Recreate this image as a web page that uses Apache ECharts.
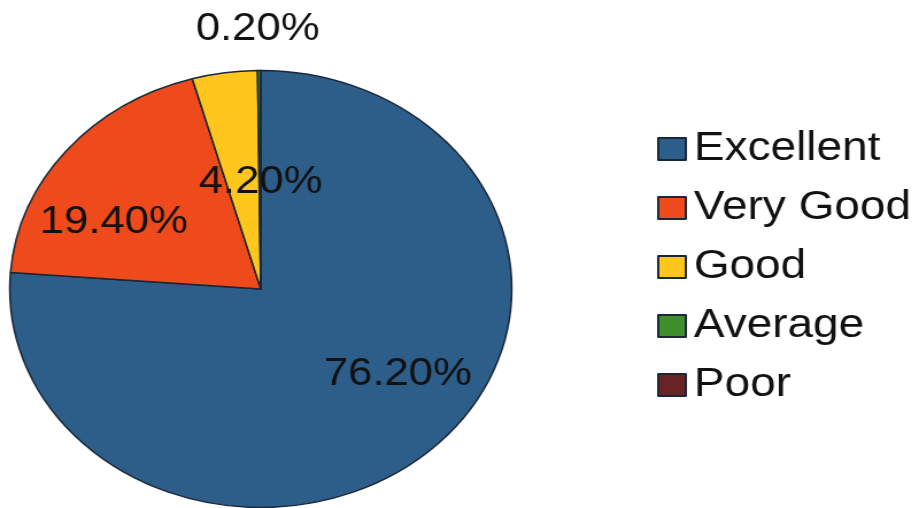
<!DOCTYPE html>
<html>
<head>
<meta charset="utf-8">
<script src="https://cdn.jsdelivr.net/npm/echarts@6/dist/echarts.min.js"></script>
<style>
  html, body { margin: 0; padding: 0; background: #ffffff; overflow: hidden; }
  #c { width: 800px; height: 508px; transform: scaleX(1.14875); transform-origin: 0 0; }
</style>
</head>
<body>
<div id="c"></div>
<script>
const categories = ['Excellent', 'Very Good', 'Good', 'Average', 'Poor'];
const values = [76.2, 19.4, 4.2, 0.2, 0];
const colors = ['#2d5d89', '#ee4a1c', '#ffc61e', '#3f8f2c', '#6b2226'];
// label nudges from the default inside position (dx, dy)
const labelNudge = [[43, 3], [-41, 5], [16, 5], [-2, -147], [0, 0]];

const chart = echarts.init(document.getElementById('c'), null, { renderer: 'canvas' });
const data = categories.map((name, i) => ({
  name: name,
  value: values[i],
  itemStyle: { color: colors[i] },
  label: { show: values[i] > 0 }
}));

chart.setOption({
  animation: false,
  backgroundColor: '#ffffff',
  textStyle: { fontFamily: 'Liberation Sans, Arial, sans-serif' },
  legend: {
    orient: 'vertical',
    left: 567,
    top: 124,
    itemWidth: 24,
    itemHeight: 22,
    itemGap: 19,
    icon: 'rect',
    textStyle: { fontSize: 40, color: '#111111', fontFamily: 'Liberation Sans, Arial, sans-serif', padding: [0, 0, 0, 2] },
    data: categories
  },
  series: [{
    type: 'pie',
    center: [227, 289],
    radius: 218.5,
    startAngle: 90,
    clockwise: true,
    avoidLabelOverlap: false,
    itemStyle: { borderColor: '#1b2736', borderWidth: 1.5 },
    label: {
      position: 'inside',
      fontSize: 38,
      color: '#111111',
      fontFamily: 'Liberation Sans, Arial, sans-serif',
      formatter: p => p.value.toFixed(2) + '%'
    },
    labelLine: { show: false },
    labelLayout: p => ({ dx: labelNudge[p.dataIndex][0], dy: labelNudge[p.dataIndex][1] }),
    emphasis: { disabled: true },
    data: data
  }]
});
</script>
</body>
</html>
